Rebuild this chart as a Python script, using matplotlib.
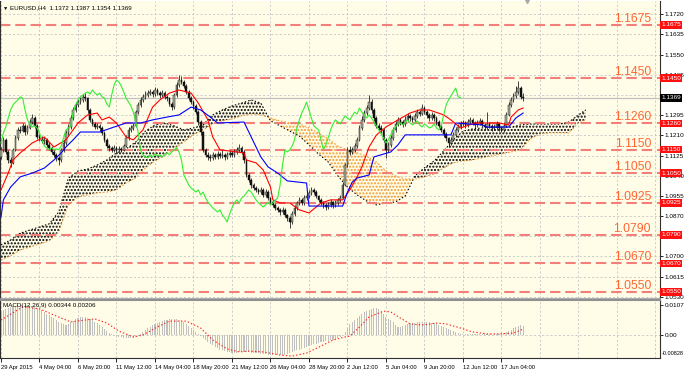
import numpy as np
import matplotlib
matplotlib.use("Agg")
import matplotlib.pyplot as plt

plt.rcParams['font.family'] = ['Liberation Sans', 'DejaVu Sans']
plt.rcParams['hatch.linewidth'] = 1.0
plt.rcParams['lines.scale_dashes'] = False

# ---------------- data ----------------
title_text = "EURUSD,H4  1.1372 1.1387 1.1354 1.1369"
macd_title = "MACD(12,26,9) 0.00344 0.00206"
current_price = 1.1369

opens = [1.1120, 1.1149, 1.1191, 1.1140, 1.1106, 1.1094, 1.1149, 1.1199, 1.1233, 1.1230,
 1.1250, 1.1224, 1.1241, 1.1266, 1.1283, 1.1250, 1.1203, 1.1199, 1.1186, 1.1191,
 1.1170, 1.1157, 1.1140, 1.1128, 1.1115, 1.1106, 1.1149, 1.1178, 1.1220, 1.1245,
 1.1283, 1.1317, 1.1338, 1.1350, 1.1359, 1.1372, 1.1367, 1.1317, 1.1275, 1.1258,
 1.1245, 1.1250, 1.1241, 1.1220, 1.1191, 1.1165, 1.1157, 1.1149, 1.1157, 1.1149,
 1.1153, 1.1149, 1.1165, 1.1199, 1.1233, 1.1241, 1.1250, 1.1308, 1.1338, 1.1359,
 1.1372, 1.1380, 1.1388, 1.1393, 1.1384, 1.1401, 1.1388, 1.1380, 1.1388, 1.1372,
 1.1367, 1.1342, 1.1329, 1.1380, 1.1422, 1.1443, 1.1435, 1.1418, 1.1393, 1.1367,
 1.1350, 1.1334, 1.1308, 1.1266, 1.1224, 1.1149, 1.1128, 1.1119, 1.1115, 1.1128,
 1.1119, 1.1132, 1.1123, 1.1128, 1.1119, 1.1128, 1.1136, 1.1128, 1.1140, 1.1149,
 1.1157, 1.1140, 1.1106, 1.1043, 1.1022, 1.1001, 1.0988, 1.0980, 1.0971, 1.0980,
 1.0959, 1.0971, 1.0946, 1.0929, 1.0917, 1.0904, 1.0896, 1.0887, 1.0896, 1.0874,
 1.0862, 1.0845, 1.0878, 1.0904, 1.0925, 1.0938, 1.0925, 1.0946, 1.0954, 1.0967,
 1.0980, 1.0971, 1.0954, 1.0938, 1.0925, 1.0917, 1.0908, 1.0917, 1.0929, 1.0917,
 1.0925, 1.0938, 1.0946, 1.1001, 1.1085, 1.1149, 1.1140, 1.1149, 1.1165, 1.1191,
 1.1241, 1.1275, 1.1304, 1.1325, 1.1350, 1.1317, 1.1283, 1.1250, 1.1241, 1.1233,
 1.1191, 1.1149, 1.1170, 1.1199, 1.1233, 1.1258, 1.1275, 1.1266, 1.1258, 1.1275,
 1.1292, 1.1283, 1.1275, 1.1292, 1.1308, 1.1300, 1.1325, 1.1308, 1.1296, 1.1283,
 1.1296, 1.1283, 1.1266, 1.1250, 1.1233, 1.1216, 1.1199, 1.1178, 1.1191, 1.1212,
 1.1233, 1.1245, 1.1258, 1.1262, 1.1254, 1.1266, 1.1275, 1.1262, 1.1254, 1.1262,
 1.1271, 1.1254, 1.1245, 1.1258, 1.1250, 1.1241, 1.1245, 1.1258, 1.1241, 1.1233,
 1.1250, 1.1296, 1.1338, 1.1359, 1.1376, 1.1393, 1.1409, 1.1372]

highs = [1.1162, 1.1205, 1.1198, 1.1150, 1.1118, 1.1158, 1.1210, 1.1245, 1.1248, 1.1262,
 1.1258, 1.1255, 1.1280, 1.1300, 1.1292, 1.1258, 1.1215, 1.1208, 1.1202, 1.1198,
 1.1180, 1.1165, 1.1150, 1.1136, 1.1125, 1.1158, 1.1190, 1.1232, 1.1258, 1.1295,
 1.1330, 1.1350, 1.1365, 1.1372, 1.1385, 1.1390, 1.1372, 1.1325, 1.1285, 1.1268,
 1.1262, 1.1258, 1.1248, 1.1228, 1.1198, 1.1175, 1.1166, 1.1168, 1.1165, 1.1163,
 1.1162, 1.1175, 1.1210, 1.1245, 1.1255, 1.1262, 1.1318, 1.1350, 1.1372, 1.1385,
 1.1395, 1.1400, 1.1405, 1.1402, 1.1412, 1.1408, 1.1396, 1.1400, 1.1395, 1.1382,
 1.1372, 1.1350, 1.1390, 1.1435, 1.1465, 1.1458, 1.1445, 1.1425, 1.1400, 1.1375,
 1.1358, 1.1340, 1.1315, 1.1275, 1.1230, 1.1158, 1.1140, 1.1130, 1.1140, 1.1136,
 1.1145, 1.1140, 1.1150, 1.1135, 1.1140, 1.1148, 1.1145, 1.1152, 1.1160, 1.1172,
 1.1165, 1.1148, 1.1112, 1.1052, 1.1030, 1.1010, 1.0998, 1.0990, 1.0992, 1.0986,
 1.0982, 1.0978, 1.0952, 1.0936, 1.0925, 1.0912, 1.0902, 1.0906, 1.0902, 1.0880,
 1.0870, 1.0890, 1.0915, 1.0935, 1.0950, 1.0945, 1.0958, 1.0966, 1.0978, 1.0992,
 1.0988, 1.0978, 1.0960, 1.0945, 1.0932, 1.0925, 1.0928, 1.0940, 1.0935, 1.0936,
 1.0948, 1.0958, 1.1012, 1.1095, 1.1160, 1.1165, 1.1162, 1.1178, 1.1202, 1.1255,
 1.1290, 1.1318, 1.1338, 1.1382, 1.1365, 1.1325, 1.1290, 1.1262, 1.1252, 1.1240,
 1.1200, 1.1182, 1.1210, 1.1245, 1.1270, 1.1288, 1.1285, 1.1275, 1.1290, 1.1305,
 1.1300, 1.1292, 1.1305, 1.1322, 1.1318, 1.1340, 1.1335, 1.1315, 1.1305, 1.1308,
 1.1305, 1.1290, 1.1275, 1.1258, 1.1240, 1.1225, 1.1205, 1.1202, 1.1222, 1.1245,
 1.1258, 1.1270, 1.1275, 1.1270, 1.1278, 1.1288, 1.1282, 1.1270, 1.1274, 1.1284,
 1.1278, 1.1262, 1.1310, 1.1268, 1.1258, 1.1256, 1.1270, 1.1265, 1.1250, 1.1262,
 1.1308, 1.1350, 1.1372, 1.1390, 1.1420, 1.1440, 1.1418, 1.1387]

lows = [1.1110, 1.1140, 1.1132, 1.1095, 1.1075, 1.1088, 1.1142, 1.1190, 1.1218, 1.1222,
 1.1212, 1.1215, 1.1235, 1.1258, 1.1240, 1.1195, 1.1185, 1.1176, 1.1175, 1.1160,
 1.1148, 1.1130, 1.1118, 1.1100, 1.1085, 1.1098, 1.1140, 1.1170, 1.1212, 1.1238,
 1.1275, 1.1308, 1.1330, 1.1340, 1.1350, 1.1355, 1.1305, 1.1265, 1.1248, 1.1235,
 1.1236, 1.1230, 1.1210, 1.1180, 1.1155, 1.1145, 1.1138, 1.1140, 1.1135, 1.1140,
 1.1138, 1.1142, 1.1160, 1.1192, 1.1225, 1.1232, 1.1245, 1.1300, 1.1330, 1.1350,
 1.1362, 1.1370, 1.1378, 1.1372, 1.1375, 1.1378, 1.1368, 1.1372, 1.1362, 1.1355,
 1.1332, 1.1318, 1.1322, 1.1372, 1.1415, 1.1425, 1.1408, 1.1383, 1.1358, 1.1340,
 1.1322, 1.1298, 1.1255, 1.1212, 1.1138, 1.1118, 1.1108, 1.1102, 1.1108, 1.1110,
 1.1112, 1.1115, 1.1115, 1.1108, 1.1112, 1.1120, 1.1118, 1.1120, 1.1132, 1.1140,
 1.1130, 1.1095, 1.1035, 1.1012, 1.0990, 1.0978, 1.0970, 1.0962, 1.0962, 1.0950,
 1.0950, 1.0936, 1.0920, 1.0908, 1.0895, 1.0885, 1.0876, 1.0878, 1.0865, 1.0850,
 1.0820, 1.0838, 1.0870, 1.0895, 1.0915, 1.0915, 1.0918, 1.0938, 1.0945, 1.0960,
 1.0962, 1.0945, 1.0928, 1.0915, 1.0905, 1.0896, 1.0898, 1.0908, 1.0905, 1.0908,
 1.0915, 1.0930, 1.0940, 1.0995, 1.1078, 1.1128, 1.1130, 1.1140, 1.1158, 1.1185,
 1.1232, 1.1266, 1.1295, 1.1318, 1.1305, 1.1272, 1.1240, 1.1230, 1.1220, 1.1180,
 1.1115, 1.1138, 1.1160, 1.1190, 1.1225, 1.1248, 1.1255, 1.1245, 1.1250, 1.1268,
 1.1272, 1.1265, 1.1268, 1.1285, 1.1290, 1.1295, 1.1298, 1.1285, 1.1272, 1.1275,
 1.1272, 1.1255, 1.1240, 1.1222, 1.1205, 1.1188, 1.1160, 1.1170, 1.1185, 1.1205,
 1.1225, 1.1238, 1.1248, 1.1242, 1.1245, 1.1258, 1.1252, 1.1242, 1.1245, 1.1255,
 1.1244, 1.1235, 1.1238, 1.1240, 1.1228, 1.1232, 1.1236, 1.1230, 1.1222, 1.1226,
 1.1245, 1.1290, 1.1330, 1.1350, 1.1368, 1.1385, 1.1362, 1.1354]

closes = [1.1149, 1.1191, 1.1140, 1.1106, 1.1094, 1.1149, 1.1199, 1.1233, 1.1230, 1.1250,
 1.1224, 1.1241, 1.1266, 1.1283, 1.1250, 1.1203, 1.1199, 1.1186, 1.1191, 1.1170,
 1.1157, 1.1140, 1.1128, 1.1115, 1.1106, 1.1149, 1.1178, 1.1220, 1.1245, 1.1283,
 1.1317, 1.1338, 1.1350, 1.1359, 1.1372, 1.1367, 1.1317, 1.1275, 1.1258, 1.1245,
 1.1250, 1.1241, 1.1220, 1.1191, 1.1165, 1.1157, 1.1149, 1.1157, 1.1149, 1.1153,
 1.1149, 1.1165, 1.1199, 1.1233, 1.1241, 1.1250, 1.1308, 1.1338, 1.1359, 1.1372,
 1.1380, 1.1388, 1.1393, 1.1384, 1.1401, 1.1388, 1.1380, 1.1388, 1.1372, 1.1367,
 1.1342, 1.1329, 1.1380, 1.1422, 1.1443, 1.1435, 1.1418, 1.1393, 1.1367, 1.1350,
 1.1334, 1.1308, 1.1266, 1.1224, 1.1149, 1.1128, 1.1119, 1.1115, 1.1128, 1.1119,
 1.1132, 1.1123, 1.1128, 1.1119, 1.1128, 1.1136, 1.1128, 1.1140, 1.1149, 1.1157,
 1.1140, 1.1106, 1.1043, 1.1022, 1.1001, 1.0988, 1.0980, 1.0971, 1.0980, 1.0959,
 1.0971, 1.0946, 1.0929, 1.0917, 1.0904, 1.0896, 1.0887, 1.0896, 1.0874, 1.0862,
 1.0845, 1.0878, 1.0904, 1.0925, 1.0938, 1.0925, 1.0946, 1.0954, 1.0967, 1.0980,
 1.0971, 1.0954, 1.0938, 1.0925, 1.0917, 1.0908, 1.0917, 1.0929, 1.0917, 1.0925,
 1.0938, 1.0946, 1.1001, 1.1085, 1.1149, 1.1140, 1.1149, 1.1165, 1.1191, 1.1241,
 1.1275, 1.1304, 1.1325, 1.1350, 1.1317, 1.1283, 1.1250, 1.1241, 1.1233, 1.1191,
 1.1149, 1.1170, 1.1199, 1.1233, 1.1258, 1.1275, 1.1266, 1.1258, 1.1275, 1.1292,
 1.1283, 1.1275, 1.1292, 1.1308, 1.1300, 1.1325, 1.1308, 1.1296, 1.1283, 1.1296,
 1.1283, 1.1266, 1.1250, 1.1233, 1.1216, 1.1199, 1.1178, 1.1191, 1.1212, 1.1233,
 1.1245, 1.1258, 1.1262, 1.1254, 1.1266, 1.1275, 1.1262, 1.1254, 1.1262, 1.1271,
 1.1254, 1.1245, 1.1258, 1.1250, 1.1241, 1.1245, 1.1258, 1.1241, 1.1233, 1.1250,
 1.1296, 1.1338, 1.1359, 1.1376, 1.1393, 1.1409, 1.1372, 1.1369]

tenkan_bars = [0, 3, 5, 8, 11, 13, 18, 22, 27, 32, 36, 40, 42, 45, 48, 52, 55, 59, 63, 66,
 70, 74, 79, 82, 86, 88, 91, 101, 102, 106, 109, 112, 113, 116, 120, 124, 128, 133, 137, 142,
 145, 148, 150, 153, 156, 160, 165, 170, 174, 178, 184, 187, 191, 197, 207, 211, 212, 215, 217]
tenkan_vals = [1.0980, 1.1051, 1.1106, 1.1136, 1.1161, 1.1178, 1.1203, 1.1161, 1.1191, 1.1262,
 1.1296, 1.1304, 1.1275, 1.1287, 1.1262, 1.1203, 1.1191, 1.1233, 1.1329, 1.1359,
 1.1388, 1.1401, 1.1388, 1.1346, 1.1275, 1.1203, 1.1149, 1.1136, 1.1106, 1.1094,
 1.1064, 1.0992, 1.0938, 1.0925, 1.0925, 1.0896, 1.0883, 1.0925, 1.0938, 1.0938,
 1.0980, 1.1035, 1.1077, 1.1161, 1.1211, 1.1245, 1.1275, 1.1304, 1.1317, 1.1317,
 1.1296, 1.1275, 1.1241, 1.1262, 1.1262, 1.1254, 1.1287, 1.1317, 1.1325]

kijun_bars = [0, 1, 4, 8, 13, 18, 22, 25, 27, 30, 33, 41, 47, 52, 58, 63, 69, 74, 79, 83,
 87, 90, 101, 104, 108, 111, 115, 119, 127, 128, 142, 144, 146, 148, 153, 155, 162, 165, 168, 187,
 189, 200, 202, 211, 214, 217]
kijun_vals = [1.0866, 1.0938, 1.0992, 1.1035, 1.1051, 1.1072, 1.1106, 1.1136, 1.1161, 1.1191,
 1.1224, 1.1224, 1.1245, 1.1262, 1.1262, 1.1275, 1.1287, 1.1296, 1.1329, 1.1317,
 1.1287, 1.1262, 1.1266, 1.1203, 1.1119, 1.1077, 1.1051, 1.1018, 1.1009, 1.0912,
 1.0912, 1.0971, 1.1013, 1.1030, 1.1043, 1.1119, 1.1140, 1.1170, 1.1212, 1.1212,
 1.1262, 1.1254, 1.1245, 1.1245, 1.1283, 1.1304]

chikou_shift = 26

cloud_bars = [0, 4, 8, 12, 16, 20, 24, 28, 32, 36, 40, 44, 48, 52, 56, 60, 64, 68, 72, 76,
 80, 84, 88, 92, 96, 100, 104, 108, 112, 116, 120, 124, 128, 132, 136, 140, 144, 148, 152, 156,
 160, 164, 168, 172, 176, 180, 184, 188, 192, 196, 200, 204, 208, 212, 216, 220, 224, 228, 232, 236,
 240, 243]
senkou_a = [1.0748, 1.0769, 1.0798, 1.0811, 1.0824, 1.0837, 1.0887, 1.1030, 1.1060, 1.1068,
 1.1085, 1.1106, 1.1136, 1.1153, 1.1182, 1.1228, 1.1254, 1.1262, 1.1250, 1.1233,
 1.1241, 1.1254, 1.1296, 1.1317, 1.1334, 1.1346, 1.1359, 1.1346, 1.1271, 1.1250,
 1.1228, 1.1207, 1.1170, 1.1131, 1.1098, 1.1039, 1.0992, 1.0959, 1.0933, 1.0917,
 1.0925, 1.0929, 1.0954, 1.1039, 1.1073, 1.1102, 1.1144, 1.1191, 1.1228, 1.1237,
 1.1241, 1.1245, 1.1245, 1.1245, 1.1254, 1.1258, 1.1258, 1.1258, 1.1258, 1.1266,
 1.1296, 1.1317]
senkou_b = [1.0685, 1.0702, 1.0727, 1.0739, 1.0752, 1.0765, 1.0803, 1.0917, 1.0950, 1.0959,
 1.0967, 1.0971, 1.0980, 1.1009, 1.1030, 1.1072, 1.1102, 1.1123, 1.1153, 1.1182,
 1.1212, 1.1233, 1.1258, 1.1271, 1.1279, 1.1292, 1.1300, 1.1296, 1.1283, 1.1271,
 1.1262, 1.1258, 1.1241, 1.1220, 1.1195, 1.1165, 1.1149, 1.1136, 1.1123, 1.1098,
 1.1060, 1.1039, 1.1026, 1.1026, 1.1035, 1.1047, 1.1072, 1.1094, 1.1102, 1.1106,
 1.1115, 1.1123, 1.1132, 1.1140, 1.1149, 1.1195, 1.1216, 1.1220, 1.1220, 1.1220,
 1.1262, 1.1275]

# MACD main values in units of 1e-4
macd_main_e4 = [86, 90, 94, 97, 101, 104, 104, 108, 108, 108,
 108, 108, 104, 104, 101, 97, 94, 90, 83, 76,
 72, 65, 61, 54, 47, 43, 40, 36, 40, 47,
 50, 58, 61, 65, 65, 65, 61, 58, 54, 47,
 43, 36, 29, 22, 14, 7, 4, 0, -4, -7,
 -7, -11, -11, -11, -11, -11, -7, -4, 4, 11,
 18, 25, 29, 36, 40, 43, 47, 50, 54, 54,
 58, 58, 58, 58, 54, 50, 47, 40, 32, 25,
 18, 11, 4, -4, -11, -18, -25, -32, -36, -43,
 -47, -54, -54, -58, -61, -61, -65, -65, -65, -61,
 -61, -61, -61, -61, -65, -65, -65, -65, -68, -68,
 -68, -72, -72, -72, -72, -72, -72, -72, -72, -68,
 -65, -61, -58, -54, -54, -50, -47, -43, -40, -36,
 -32, -32, -29, -25, -25, -22, -22, -18, -18, -14,
 -11, -7, 0, 11, 25, 40, 47, 54, 61, 68,
 76, 83, 86, 90, 94, 97, 97, 94, 86, 76,
 65, 58, 54, 47, 36, 29, 29, 32, 36, 40,
 43, 43, 43, 47, 47, 47, 47, 47, 47, 43,
 43, 40, 36, 32, 29, 25, 22, 18, 14, 11,
 7, 4, 4, 2, 2, 2, 2, 2, 2, 2,
 2, 2, 2, 2, 2, 2, 2, 4, 4, 7,
 11, 14, 18, 25, 29, 32, 36, 34]
signal_bars = [0, 9, 16, 25, 29, 35, 39, 44, 49, 55, 59, 65, 70, 77, 83, 88, 94, 99, 103, 109,
 116, 121, 127, 133, 138, 143, 145, 149, 153, 159, 162, 166, 170, 175, 181, 185, 191, 196, 202, 207,
 213, 217]
signal_e4 = [54, 101, 94, 61, 47, 54, 58, 43, 14, -7, 0, 29, 50, 50, 25, -18, -50, -61, -58, -61,
 -72, -76, -65, -40, -18, -7, -4, 29, 65, 86, 83, 61, 40, 36, 43, 40, 25, 11, 4, 4,
 7, 21]

levels = [1.1675, 1.1450, 1.1260, 1.1150, 1.1050, 1.0925, 1.0790, 1.0670, 1.0550]
# right-scale tick values that remain visible (1.1380 and 1.0785 sit under price boxes)
price_ticks = [1.1720, 1.1635, 1.1550, 1.1465, 1.1295, 1.1210, 1.1125, 1.1040,
               1.0955, 1.0870, 1.0700, 1.0615, 1.0530]
date_bars = [0, 16, 32, 48, 64, 80, 96, 112, 128, 144, 160, 176, 192, 208]
date_labels = ["29 Apr 2015", "4 May 04:00", "6 May 20:00", "11 May 12:00", "14 May 04:00",
               "18 May 20:00", "21 May 12:00", "26 May 04:00", "28 May 20:00", "2 Jun 12:00",
               "5 Jun 04:00", "9 Jun 20:00", "12 Jun 12:00", "17 Jun 04:00"]
grid_bars = [0, 16, 32, 48, 64, 80, 96, 112, 128, 144, 160, 176, 192, 208, 224, 240, 256, 272]
grid_prices = [1.1720, 1.1635, 1.1550, 1.1465, 1.1380, 1.1295, 1.1210, 1.1125, 1.1040,
               1.0955, 1.0870, 1.0785, 1.0700, 1.0615, 1.0530]
macd_labels = ["0.0107", "0.00", "-0.00828"]
macd_label_vals = [0.0107, 0.0, -0.0066]

# ---------------- figure ----------------
W, H = 685, 373
BG = '#fffde8'
GRID = '#c4c4c4'
fig = plt.figure(figsize=(W / 100, H / 100), dpi=100, facecolor='white')
ax = fig.add_axes([0, 75 / H, 660 / W, 297 / H])
ax2 = fig.add_axes([0, 15 / H, 660 / W, 58 / H])
for a in (ax, ax2):
    a.set_facecolor(BG)
    a.set_xlim(-0.416, 273.9)

ax.set_ylim(1.05245, 1.17761)
ax2.set_ylim(-0.00828, 0.0126)

o = np.array(opens); h = np.array(highs); l = np.array(lows); c = np.array(closes)
bars = np.arange(len(c))

# grid
for gb in grid_bars:
    ax.axvline(gb, color=GRID, lw=0.6, ls=(0, (1.5, 1.5)), zorder=0.5)
    ax2.axvline(gb, color=GRID, lw=0.6, ls=(0, (1.5, 1.5)), zorder=0.5)
for pt in grid_prices:
    ax.axhline(pt, color=GRID, lw=0.6, ls=(0, (1.5, 1.5)), zorder=0.5)

# cloud
cb = np.array(cloud_bars); sa = np.array(senkou_a); sbb = np.array(senkou_b)
ax.fill_between(cb, sa, sbb, where=sa >= sbb, interpolate=True, facecolor='none',
                edgecolor='#000000', hatch='.....', linewidth=0, zorder=1)
ax.fill_between(cb, sa, sbb, where=sa < sbb, interpolate=True, facecolor='none',
                edgecolor='#f49a30', hatch='.....', linewidth=0, zorder=1)
ax.plot(cb, sa, color='black', lw=0.8, ls=(0, (1, 1.5)), zorder=1.5)
ax.plot(cb, sbb, color='#f49a30', lw=0.8, ls=(0, (1, 1.5)), zorder=1.5)

# current price line
ax.axhline(current_price, color='#c0c0c0', lw=0.9, zorder=1.8)

# level lines and labels
ytr = ax.get_yaxis_transform()
for lv in levels:
    ax.axhline(lv, color='#f37f7a', lw=1.5, dashes=(7.5, 3.5), zorder=2)
    ax.annotate(f"{lv:.4f}", xy=(651 / 660, lv), xycoords=ytr, xytext=(0, 2.2),
                textcoords='offset points', ha='right', va='baseline',
                fontsize=8.7, color='#ff6633', zorder=6)

# candles
up = c >= o
body_lo = np.minimum(o, c)
body_h = np.maximum(np.abs(c - o), 0.00006)
ax.vlines(bars, l, h, color='#101010', lw=0.55, zorder=3)
ax.bar(bars[up], body_h[up], bottom=body_lo[up], width=0.7, color='#a9b29a',
       edgecolor='#202020', linewidth=0.35, zorder=3.1)
ax.bar(bars[~up], body_h[~up], bottom=body_lo[~up], width=0.7, color='#111111',
       edgecolor='#111111', linewidth=0.35, zorder=3.1)

# ichimoku lines
ax.plot(tenkan_bars, tenkan_vals, color='#ff0000', lw=0.8, zorder=4)
ax.plot(kijun_bars, kijun_vals, color='#0000ff', lw=0.8, zorder=4)
ax.plot(bars[:-chikou_shift], c[chikou_shift:], color='#33ee33', lw=0.8, zorder=4)

# right price axis
ax.yaxis.tick_right()
ax.set_yticks(price_ticks)
ax.set_yticklabels([f"{p:.4f}" for p in price_ticks])
ax.tick_params(axis='y', labelsize=4.6, length=2, width=0.6, pad=1.5, colors='black')
ax.tick_params(axis='x', bottom=False, labelbottom=False)

for lv in levels:
    ax.text(1.0015, lv, f"{lv:.4f}", transform=ytr, ha='left', va='center', fontsize=4.6,
            color='white', clip_on=False, zorder=10,
            bbox=dict(boxstyle='square,pad=0.22', fc='#ff1010', ec='none'))
ax.text(1.0015, current_price, f"{current_price:.4f}", transform=ytr, ha='left', va='center',
        fontsize=4.6, color='white', clip_on=False, zorder=10,
        bbox=dict(boxstyle='square,pad=0.22', fc='black', ec='none'))

# spines
for a in (ax, ax2):
    a.spines['left'].set_color('#303030')
    a.spines['right'].set_color('#303030')
    a.spines['left'].set_linewidth(0.8)
    a.spines['right'].set_linewidth(0.8)
ax.spines['top'].set_visible(False)
ax.spines['bottom'].set_color('#a0a0a0')
ax.spines['bottom'].set_linewidth(0.6)
ax2.spines['top'].set_color('#909090')
ax2.spines['top'].set_linewidth(1.5)
ax2.spines['bottom'].set_color('#303030')
ax2.spines['bottom'].set_linewidth(0.8)

# title texts
fig.text(3 / W, 1 - 8 / H, "\u25bc", fontsize=3.8, color='black', va='center', ha='left')
fig.text(10 / W, 1 - 8 / H, title_text, fontsize=4.5, color='black', va='center', ha='left')
ax.plot([218.6], [1.1774], marker='v', color='#a8a8a8', ms=3, clip_on=False, zorder=7)

# MACD panel
macd = np.array(macd_main_e4) * 1e-4
sig = np.array(signal_e4) * 1e-4
ax2.axhline(0, color=GRID, lw=0.6, ls=(0, (1.5, 1.5)), zorder=0.6)
ax2.bar(bars, macd, width=0.45, color='#c0c0c0', zorder=2)
ax2.plot(signal_bars, sig, color='#ff2020', lw=0.8, ls=(0, (1, 1.5)), zorder=3)
ax2.text(3 / 660, 1 - 6 / 58, macd_title, transform=ax2.transAxes, fontsize=4.5,
         va='center', ha='left', color='black')
ax2.yaxis.tick_right()
ax2.set_yticks([0.0107, 0.0])
ax2.set_yticklabels(macd_labels[:2])
ax2.tick_params(axis='y', labelsize=4.6, length=2, width=0.6, pad=1.5)
ax2.text(1.0 + 1.5 / 660, macd_label_vals[2], macd_labels[2], transform=ax2.get_yaxis_transform(),
         fontsize=4.0, va='center', ha='left', clip_on=False)
ax2.set_xticks(date_bars)
ax2.set_xticklabels(date_labels, ha='left')
ax2.tick_params(axis='x', labelsize=4.2, length=3, width=0.6, pad=2)

fig.savefig('out.png', dpi=100, facecolor='white')
